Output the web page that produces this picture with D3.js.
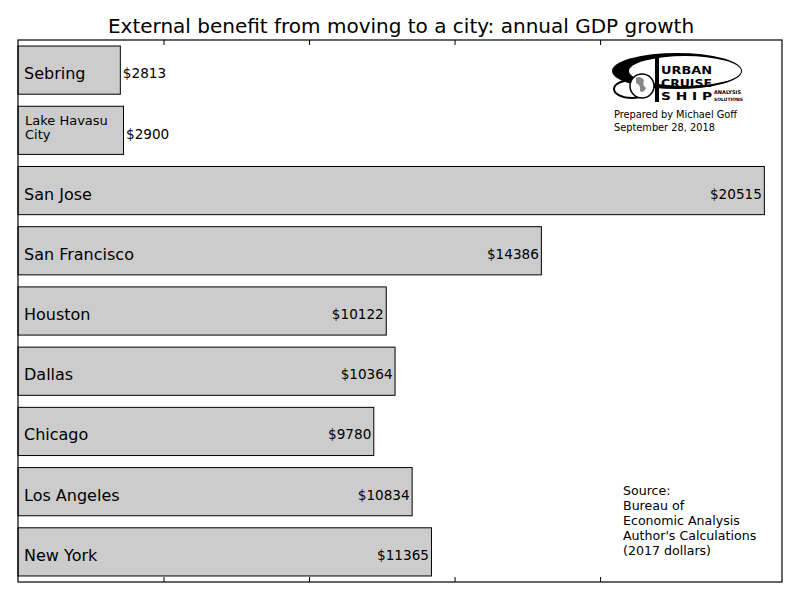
<!DOCTYPE html>
<html>
<head>
<meta charset="utf-8">
<script src="https://cdn.jsdelivr.net/npm/d3@7"></script>
<style>
  body { margin: 0; background: #fff; }
  svg { font-family: "DejaVu Sans", sans-serif; }
</style>
</head>
<body>
<script>
// chart data, top bar first
const cities = ["Sebring", "Lake Havasu\nCity", "San Jose", "San Francisco", "Houston",
                "Dallas", "Chicago", "Los Angeles", "New York"];
const benefit = [2813, 2900, 20515, 14386, 10122, 10364, 9780, 10834, 11365];
const xTicks = [4000, 8000, 12000, 16000];
const sourceLines = ["Source:", "Bureau of", "Economic Analysis", "Author's Calculations", "(2017 dollars)"];

function main(){
    const width = 800;
    const height = 600;
    const left = 18, right = 782, top = 40, bottom = 582;

    const svg = d3.select('body')
        .append('svg')
        .attr('width', width)
        .attr('height', height);

    svg.append('text') // title
        .attr('x', 401)
        .attr('y', 33)
        .attr('text-anchor', 'middle')
        .attr('font-size', 20)
        .text("External benefit from moving to a city: annual GDP growth");

    const xScale = d3.scaleLinear()
        .domain([0, 21000])
        .range([left, right]);

    const yScale = d3.scaleBand()
        .domain(cities)
        .range([top, bottom])
        .paddingInner(0.2)
        .paddingOuter(0.1);

    // ticks at top and bottom pointing inward, no labels
    svg.append('g')
        .attr('transform', `translate(0,${bottom})`)
        .call(d3.axisTop(xScale).tickValues(xTicks).tickSize(5).tickFormat(''))
        .call(g => g.select('.domain').remove());
    svg.append('g')
        .attr('transform', `translate(0,${top})`)
        .call(d3.axisBottom(xScale).tickValues(xTicks).tickSize(5).tickFormat(''))
        .call(g => g.select('.domain').remove());

    const bars = svg.selectAll('.bar')
        .data(cities)
        .enter()
        .append('g')
        .attr('class', 'bar');

    bars.append('rect')
        .attr('x', xScale(0))
        .attr('y', d => yScale(d))
        .attr('width', (d, i) => xScale(benefit[i]) - xScale(0))
        .attr('height', yScale.bandwidth())
        .attr('fill', '#cccccc')
        .attr('stroke', '#000')
        .attr('stroke-width', 1);

    // city names
    bars.each(function(d, i){
        const g = d3.select(this);
        const mid = yScale(d) + yScale.bandwidth() / 2;
        const lines = d.split('\n');
        if(lines.length > 1){
            lines.forEach((t, k) => {
                g.append('text')
                    .attr('x', 25)
                    .attr('y', mid - 5 + k * 14)
                    .attr('font-size', 13)
                    .text(t);
            });
        } else {
            g.append('text')
                .attr('x', 24)
                .attr('y', mid + 9)
                .attr('font-size', 16)
                .text(d);
        }
    });

    // values: outside for short bars, inside right otherwise
    bars.append('text')
        .attr('x', (d, i) => benefit[i] < 5000 ? xScale(benefit[i]) + 2.5 : xScale(benefit[i]) - 2.5)
        .attr('y', (d, i) => yScale(d) + yScale.bandwidth() / 2 + (i === 1 ? 8.5 : 8))
        .attr('text-anchor', (d, i) => benefit[i] < 5000 ? 'start' : 'end')
        .attr('font-size', 13.6)
        .text((d, i) => '$' + benefit[i]);

    svg.append('rect') // frame
        .attr('x', left)
        .attr('y', top)
        .attr('width', right - left)
        .attr('height', bottom - top)
        .attr('fill', 'none')
        .attr('stroke', '#000')
        .attr('stroke-width', 1.2);

    // source note
    svg.append('g').selectAll('text')
        .data(sourceLines)
        .enter()
        .append('text')
        .attr('x', 623)
        .attr('y', (d, i) => 495 + i * 15)
        .attr('font-size', 12.6)
        .text(d => d);

    // logo (rough)
    const logo = svg.append('g');
    logo.append('ellipse')
        .attr('cx', 677).attr('cy', 71).attr('rx', 65).attr('ry', 18)
        .attr('fill', '#000');
    logo.append('ellipse')
        .attr('cx', 685).attr('cy', 71).attr('rx', 56).attr('ry', 15)
        .attr('fill', '#fff');
    logo.append('ellipse')
        .attr('cx', 632).attr('cy', 89).attr('rx', 18).attr('ry', 9)
        .attr('fill', 'none').attr('stroke', '#000').attr('stroke-width', 2);
    logo.append('rect')
        .attr('x', 655).attr('y', 58).attr('width', 4).attr('height', 44)
        .attr('fill', '#000');
    logo.append('circle')
        .attr('cx', 642).attr('cy', 86).attr('r', 12)
        .attr('fill', '#fff').attr('stroke', '#000').attr('stroke-width', 1.5);
    logo.append('path')
        .attr('d', 'M636,78 q4,-3 8,2 q-2,5 2,8 q-3,6 -6,3 q1,-6 -4,-8 z')
        .attr('fill', '#888');
    [["URBAN", 73.5], ["CRUISE", 86.5], ["S H I P", 99.5]].forEach(([t, y]) => {
        logo.append('text')
            .attr('x', 661).attr('y', y)
            .attr('font-size', 11)
            .attr('font-weight', 'bold')
            .attr('textLength', 51)
            .attr('lengthAdjust', 'spacingAndGlyphs')
            .text(t);
    });
    logo.append('text').attr('x', 714).attr('y', 94).attr('font-size', 5).attr('font-weight', 'bold').text("ANALYSIS");
    logo.append('text').attr('x', 714).attr('y', 101).attr('font-size', 4.5).attr('font-weight', 'bold').text("SOLUTIONS");

    logo.append('text').attr('x', 614).attr('y', 118).attr('font-size', 9.8).text("Prepared by Michael Goff");
    logo.append('text').attr('x', 614).attr('y', 131).attr('font-size', 9.8).text("September 28, 2018");
}
main();
</script>
</body>
</html>
